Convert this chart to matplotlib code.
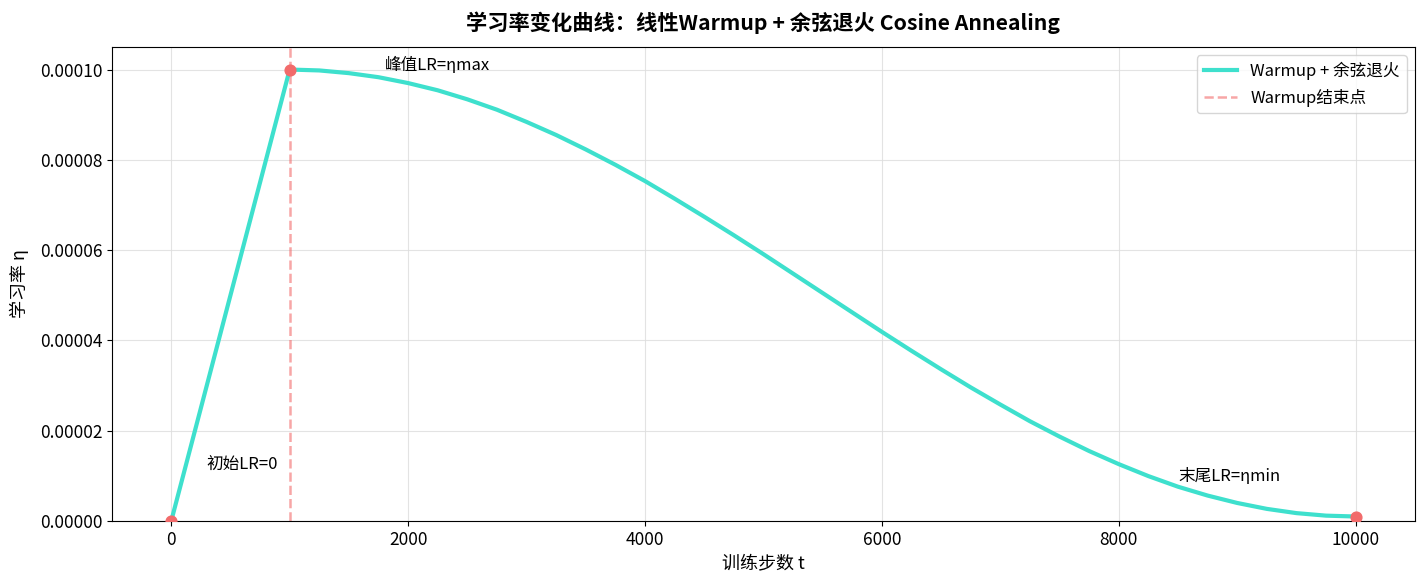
import matplotlib.pyplot as plt

plt.rcParams['font.family'] = ['Noto Sans CJK SC', 'DejaVu Sans']
plt.rcParams['axes.unicode_minus'] = False

# Learning-rate schedule values
warmup_steps = [0, 1000]
warmup_lr = [0.0, 1.0e-4]

cosine_steps = [1000, 1250, 1500, 1750, 2000, 2250, 2500, 2750, 3000, 3250,
                3500, 3750, 4000, 4250, 4500, 4750, 5000, 5250, 5500, 5750,
                6000, 6250, 6500, 6750, 7000, 7250, 7500, 7750, 8000, 8250,
                8500, 8750, 9000, 9250, 9500, 9750, 10000]
cosine_lr = [1.000e-4, 9.98e-5, 9.92e-5, 9.83e-5, 9.70e-5, 9.54e-5, 9.34e-5,
             9.11e-5, 8.84e-5, 8.55e-5, 8.23e-5, 7.89e-5, 7.53e-5, 7.14e-5,
             6.74e-5, 6.33e-5, 5.91e-5, 5.48e-5, 5.05e-5, 4.62e-5, 4.19e-5,
             3.77e-5, 3.36e-5, 2.96e-5, 2.58e-5, 2.21e-5, 1.87e-5, 1.55e-5,
             1.26e-5, 9.95e-6, 7.6e-6, 5.64e-6, 4.0e-6, 2.69e-6, 1.75e-6,
             1.19e-6, 1.0e-6]

key_steps = [0, 1000, 10000]
key_lr = [0.0, 1.0e-4, 1.0e-6]

LINE_COLOR = '#3EE0CD'
MARK_COLOR = '#F26B6B'

steps = warmup_steps + cosine_steps[1:]
lrs = warmup_lr + cosine_lr[1:]

fig = plt.figure(figsize=(14.27, 5.87), dpi=100)
ax = fig.add_axes([0.0785, 0.1124, 0.913, 0.8076])

ax.plot(steps, lrs, color=LINE_COLOR, lw=3, label='Warmup + 余弦退火', zorder=3)
ax.axvline(1000, color=MARK_COLOR, ls='--', lw=1.8, alpha=0.6, label='Warmup结束点', zorder=2)
ax.scatter(key_steps, key_lr, color=MARK_COLOR, s=60, zorder=4)

ax.text(300, 1.15e-5, '初始LR=0', fontsize=12)
ax.text(1800, 1.0e-4, '峰值LR=ηmax', fontsize=12)
ax.text(8500, 8.8e-6, '末尾LR=ηmin', fontsize=12)

ax.set_xlim(-500, 10500)
ax.set_ylim(0, 1.05e-4)
ax.set_xticks([0, 2000, 4000, 6000, 8000, 10000])
ax.set_yticks([0, 2e-5, 4e-5, 6e-5, 8e-5, 1e-4])
ax.set_yticklabels(['%.5f' % v for v in [0, 2e-5, 4e-5, 6e-5, 8e-5, 1e-4]])
ax.tick_params(labelsize=12.5)
ax.grid(True, color='#dddddd', alpha=0.8, lw=0.8)

ax.set_xlabel('训练步数 t', fontsize=13)
ax.set_ylabel('学习率 η', fontsize=13, labelpad=8)
ax.set_title('学习率变化曲线：线性Warmup + 余弦退火 Cosine Annealing', fontsize=15.3,
             fontweight='bold', pad=12)
ax.legend(loc='upper right', fontsize=12)

fig.savefig('out.png', dpi=100)
